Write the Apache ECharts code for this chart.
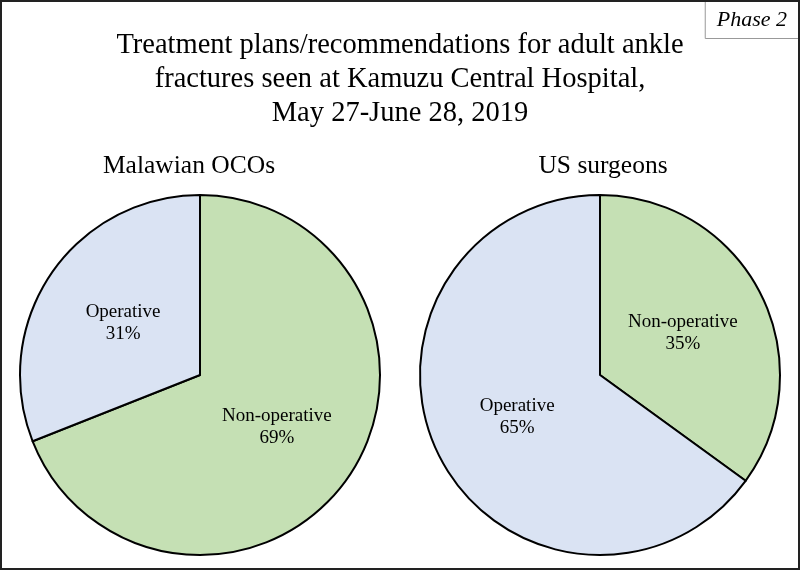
<!DOCTYPE html>
<html>
<head>
<meta charset="utf-8">
<script src="https://cdn.jsdelivr.net/npm/echarts@6/dist/echarts.min.js"></script>
<style>
  html, body { margin: 0; padding: 0; background: #fff; }
  #chart { width: 800px; height: 570px; }
</style>
</head>
<body>
<div id="chart"></div>
<script>
// data
const groups = ['Malawian OCOs', 'US surgeons']
const categories = ['Non-operative', 'Operative']
const malawiValues = [69, 31]
const usValues = [35, 65]

const titleText = 'Treatment plans/recommendations for adult ankle\nfractures seen at Kamuzu Central Hospital,\nMay 27-June 28, 2019'
const fontFamily = '"Liberation Serif", "Times New Roman", serif'
const colors = { 'Non-operative': '#c5e0b4', 'Operative': '#dae3f3' }

const makeSeries = (values, cx) => ({
  type: 'pie',
  center: [cx, 375],
  radius: [0, 180],
  startAngle: 90,
  clockwise: true,
  silent: true,
  animation: false,
  label: {
    show: true,
    position: 'inner',
    formatter: '{b}\n{c}%',
    color: '#000',
    fontFamily: fontFamily,
    fontSize: 19,
    lineHeight: 22,
  },
  labelLine: { show: false },
  itemStyle: {
    borderColor: '#000',
    borderWidth: 2,
  },
  data: categories.map((c, i) => ({
    name: c,
    value: values[i],
    itemStyle: { color: colors[c] },
  })),
})

const chart = echarts.init(document.getElementById('chart'))
chart.setOption({
  backgroundColor: '#fff',
  title: [
    {
      text: titleText,
      left: 'center',
      top: 24,
      textStyle: {
        fontFamily: fontFamily,
        fontWeight: 'normal',
        fontSize: 28.5,
        lineHeight: 34,
        color: '#000',
      },
    },
    {
      text: groups[0],
      left: 184,
      top: 148,
      textAlign: 'center',
      textStyle: { fontFamily: fontFamily, fontWeight: 'normal', fontSize: 25.5, color: '#000' },
    },
    {
      text: groups[1],
      left: 598,
      top: 148,
      textAlign: 'center',
      textStyle: { fontFamily: fontFamily, fontWeight: 'normal', fontSize: 25.5, color: '#000' },
    },
    {
      text: 'Phase 2',
      right: 1,
      top: 1,
      padding: [8, 12, 8, 12],
      borderColor: '#999',
      borderWidth: 1,
      textStyle: {
        fontFamily: fontFamily,
        fontStyle: 'italic',
        fontWeight: 'normal',
        fontSize: 22,
        color: '#000',
      },
    },
  ],
  graphic: [
    {
      type: 'rect',
      shape: { x: 1, y: 1, width: 798, height: 568 },
      style: { fill: 'none', stroke: '#222', lineWidth: 2 },
      z: 100,
      silent: true,
    },
  ],
  series: [makeSeries(malawiValues, 200), makeSeries(usValues, 600)],
})
</script>
</body>
</html>
